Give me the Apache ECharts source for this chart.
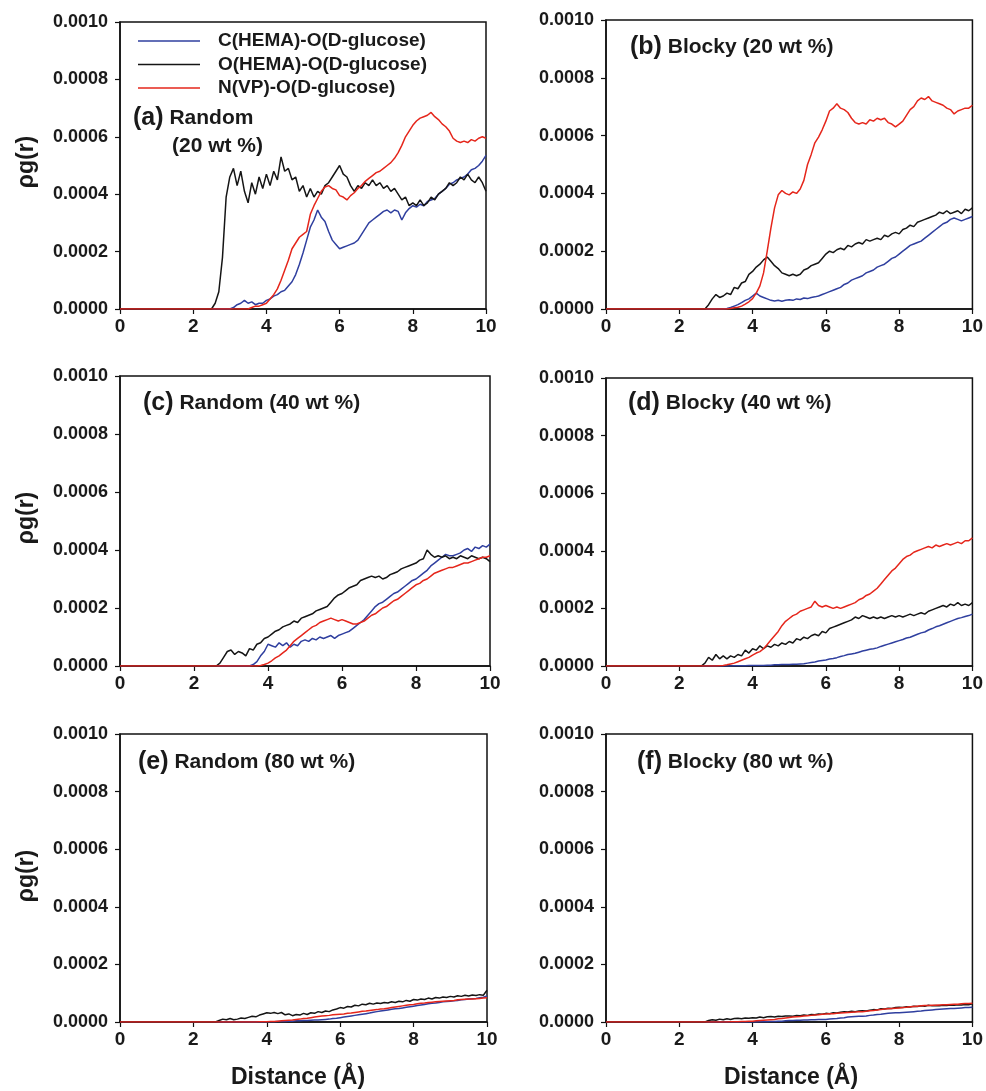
<!DOCTYPE html>
<html><head><meta charset="utf-8">
<script src="https://cdn.jsdelivr.net/npm/echarts@6/dist/echarts.min.js"></script>
<style>html,body{margin:0;padding:0;background:#fff}#c{width:986px;height:1091px}</style>
</head><body><div id="c"></div>
<script>
// ---- data (y values in units of 1e-4, sampled every 0.1 Å) ----
const SERIES_NAMES = ['C(HEMA)-O(D-glucose)', 'O(HEMA)-O(D-glucose)', 'N(VP)-O(D-glucose)'];
const SERIES_COLORS = ['#2f3f9f', '#151515', '#e5261b'];
const X_TICKS = [0, 2, 4, 6, 8, 10];
const Y_TICKS = [0, 0.0002, 0.0004, 0.0006, 0.0008, 0.0010];
const PANEL_TAGS = ['(a)', '(b)', '(c)', '(d)', '(e)', '(f)'];
const PANEL_TITLES = ['Random', 'Blocky (20 wt %)', 'Random (40 wt %)', 'Blocky (40 wt %)', 'Random (80 wt %)', 'Blocky (80 wt %)'];
const Y_UNIT = 1e-4;

const DIST = [
0,0.1,0.2,0.3,0.4,0.5,0.6,0.7,0.8,0.9,
1,1.1,1.2,1.3,1.4,1.5,1.6,1.7,1.8,1.9,
2,2.1,2.2,2.3,2.4,2.5,2.6,2.7,2.8,2.9,
3,3.1,3.2,3.3,3.4,3.5,3.6,3.7,3.8,3.9,
4,4.1,4.2,4.3,4.4,4.5,4.6,4.7,4.8,4.9,
5,5.1,5.2,5.3,5.4,5.5,5.6,5.7,5.8,5.9,
6,6.1,6.2,6.3,6.4,6.5,6.6,6.7,6.8,6.9,
7,7.1,7.2,7.3,7.4,7.5,7.6,7.7,7.8,7.9,
8,8.1,8.2,8.3,8.4,8.5,8.6,8.7,8.8,8.9,
9,9.1,9.2,9.3,9.4,9.5,9.6,9.7,9.8,9.9,
10];

// (a) Random 20 wt %
const A_C = [
0,0,0,0,0,0,0,0,0,0,
0,0,0,0,0,0,0,0,0,0,
0,0,0,0,0,0,0,0,0,0,
0,0.05,0.15,0.2,0.3,0.2,0.25,0.15,0.2,0.2,
0.3,0.35,0.45,0.5,0.6,0.65,0.8,0.95,1.2,1.55,
1.95,2.4,2.85,3.1,3.45,3.2,3.05,2.7,2.4,2.25,
2.1,2.15,2.2,2.25,2.3,2.4,2.6,2.8,3.0,3.1,
3.2,3.3,3.4,3.45,3.35,3.45,3.4,3.1,3.35,3.5,
3.6,3.55,3.65,3.6,3.75,3.8,3.85,4.0,4.1,4.2,
4.35,4.4,4.5,4.55,4.6,4.7,4.85,4.9,5.0,5.15,
5.35];
const A_O = [
0,0,0,0,0,0,0,0,0,0,
0,0,0,0,0,0,0,0,0,0,
0,0,0,0,0,0,0.2,0.6,1.8,3.9,
4.6,4.9,4.3,4.8,4.1,3.7,4.4,4.0,4.6,4.2,
4.7,4.3,4.8,4.5,5.3,4.8,4.9,4.5,4.6,4.1,
4.3,3.9,4.2,3.9,4.1,4.0,4.3,4.4,4.6,4.8,
5.0,4.7,4.6,4.3,4.1,4.3,4.2,4.4,4.3,4.5,
4.3,4.4,4.2,4.3,4.1,4.2,4.0,3.8,3.9,3.6,
3.7,3.6,3.8,3.6,3.7,3.9,3.8,4.0,4.1,4.2,
4.4,4.3,4.4,4.6,4.5,4.7,4.5,4.4,4.6,4.4,
4.1];
const A_N = [
0,0,0,0,0,0,0,0,0,0,
0,0,0,0,0,0,0,0,0,0,
0,0,0,0,0,0,0,0,0,0,
0,0,0,0,0,0,0.05,0.1,0.1,0.15,
0.2,0.35,0.5,0.7,1.0,1.35,1.7,2.1,2.3,2.5,
2.6,2.7,3.3,3.6,3.85,4.1,4.25,4.3,4.2,4.15,
3.95,3.9,3.8,3.95,4.05,4.2,4.3,4.45,4.55,4.65,
4.75,4.8,4.9,5.0,5.1,5.25,5.45,5.7,6.0,6.2,
6.4,6.55,6.65,6.7,6.75,6.85,6.7,6.6,6.45,6.35,
6.2,5.95,5.85,5.8,5.85,5.8,5.9,5.85,5.95,6.0,
5.95];

// (b) Blocky 20 wt %
const B_C = [
0,0,0,0,0,0,0,0,0,0,
0,0,0,0,0,0,0,0,0,0,
0,0,0,0,0,0,0,0,0,0,
0,0,0,0.02,0.05,0.1,0.15,0.22,0.3,0.35,
0.45,0.55,0.45,0.4,0.35,0.3,0.28,0.3,0.27,0.3,
0.32,0.3,0.35,0.33,0.38,0.36,0.4,0.42,0.45,0.5,
0.55,0.6,0.65,0.7,0.75,0.85,0.9,1.0,1.05,1.1,
1.15,1.25,1.3,1.35,1.45,1.5,1.55,1.65,1.75,1.8,
1.9,2.0,2.1,2.2,2.25,2.3,2.35,2.45,2.55,2.65,
2.75,2.85,2.95,3.0,3.1,3.15,3.1,3.05,3.1,3.15,
3.2];
const B_O = [
0,0,0,0,0,0,0,0,0,0,
0,0,0,0,0,0,0,0,0,0,
0,0,0,0,0,0,0,0,0.15,0.35,
0.5,0.4,0.45,0.55,0.5,0.75,0.7,0.9,0.95,1.2,
1.3,1.45,1.55,1.7,1.8,1.65,1.5,1.4,1.25,1.2,
1.15,1.2,1.15,1.2,1.35,1.4,1.5,1.55,1.6,1.75,
1.9,2.0,1.95,2.05,2.1,2.05,2.2,2.15,2.25,2.3,
2.25,2.4,2.35,2.4,2.45,2.4,2.55,2.5,2.6,2.65,
2.6,2.75,2.8,2.9,2.85,3.0,3.05,3.1,3.15,3.2,
3.25,3.35,3.3,3.4,3.3,3.35,3.4,3.3,3.45,3.4,
3.5];
const B_N = [
0,0,0,0,0,0,0,0,0,0,
0,0,0,0,0,0,0,0,0,0,
0,0,0,0,0,0,0,0,0,0,
0,0,0,0,0.02,0.04,0.06,0.1,0.17,0.25,
0.36,0.55,0.8,1.25,2.0,2.8,3.5,3.95,4.1,4.0,
3.95,4.05,4.0,4.15,4.45,5.0,5.35,5.75,5.95,6.2,
6.5,6.85,6.95,7.1,6.95,6.9,6.8,6.6,6.45,6.4,
6.45,6.4,6.55,6.5,6.6,6.55,6.6,6.45,6.4,6.3,
6.4,6.5,6.7,6.9,7.0,7.2,7.3,7.25,7.35,7.2,
7.15,7.1,7.05,6.95,6.9,6.75,6.85,6.9,6.95,6.95,
7.05];

// (c) Random 40 wt %
const C_C = [
0,0,0,0,0,0,0,0,0,0,
0,0,0,0,0,0,0,0,0,0,
0,0,0,0,0,0,0,0,0,0,
0,0,0,0,0,0,0.05,0.15,0.35,0.5,
0.75,0.7,0.65,0.8,0.7,0.8,0.65,0.75,0.7,0.85,
0.9,0.85,0.95,0.9,1.0,0.95,1.0,1.05,0.95,1.05,
1.1,1.15,1.2,1.3,1.4,1.5,1.6,1.75,1.9,2.05,
2.15,2.2,2.3,2.4,2.5,2.55,2.65,2.75,2.85,2.95,
3.0,3.1,3.2,3.3,3.45,3.55,3.65,3.75,3.85,3.8,
3.8,3.85,3.9,4.0,4.05,3.95,4.1,4.05,4.15,4.1,
4.2];
const C_O = [
0,0,0,0,0,0,0,0,0,0,
0,0,0,0,0,0,0,0,0,0,
0,0,0,0,0,0,0,0.1,0.3,0.5,
0.55,0.4,0.5,0.45,0.35,0.6,0.55,0.75,0.8,0.95,
1.0,1.1,1.2,1.25,1.35,1.4,1.45,1.55,1.5,1.65,
1.7,1.75,1.8,1.9,1.95,2.0,2.05,2.2,2.35,2.45,
2.5,2.6,2.7,2.75,2.8,2.95,3.0,3.05,3.1,3.05,
3.1,3.0,3.05,3.15,3.2,3.25,3.35,3.4,3.45,3.5,
3.55,3.65,3.7,4.0,3.85,3.75,3.8,3.75,3.8,3.7,
3.75,3.7,3.8,3.75,3.7,3.8,3.75,3.7,3.75,3.7,
3.6];
const C_N = [
0,0,0,0,0,0,0,0,0,0,
0,0,0,0,0,0,0,0,0,0,
0,0,0,0,0,0,0,0,0,0,
0,0,0,0,0,0,0,0,0.02,0.05,
0.1,0.18,0.28,0.35,0.45,0.55,0.7,0.85,0.95,1.05,
1.15,1.25,1.35,1.4,1.5,1.55,1.6,1.65,1.6,1.55,
1.6,1.55,1.5,1.45,1.45,1.5,1.55,1.65,1.75,1.8,
1.9,2.0,2.05,2.15,2.25,2.3,2.4,2.5,2.6,2.7,
2.8,2.85,2.95,3.0,3.1,3.2,3.25,3.3,3.35,3.4,
3.4,3.45,3.5,3.55,3.55,3.6,3.65,3.7,3.75,3.75,
3.8];

// (d) Blocky 40 wt %
const D_C = [
0,0,0,0,0,0,0,0,0,0,
0,0,0,0,0,0,0,0,0,0,
0,0,0,0,0,0,0,0,0,0,
0,0,0,0,0,0.005,0.01,0.01,0.01,0.015,
0.02,0.02,0.02,0.02,0.03,0.03,0.04,0.04,0.05,0.05,
0.05,0.06,0.06,0.07,0.08,0.1,0.12,0.14,0.17,0.19,
0.21,0.24,0.26,0.29,0.33,0.36,0.4,0.42,0.44,0.48,
0.52,0.55,0.58,0.6,0.63,0.68,0.72,0.76,0.8,0.84,
0.88,0.92,0.97,1.0,1.05,1.1,1.15,1.18,1.25,1.3,
1.36,1.4,1.45,1.5,1.55,1.6,1.65,1.68,1.72,1.75,
1.8];
const D_O = [
0,0,0,0,0,0,0,0,0,0,
0,0,0,0,0,0,0,0,0,0,
0,0,0,0,0,0,0,0.1,0.3,0.2,
0.4,0.25,0.35,0.25,0.35,0.3,0.4,0.35,0.55,0.45,
0.6,0.55,0.7,0.6,0.7,0.65,0.75,0.7,0.8,0.75,
0.85,0.8,0.95,0.9,1.0,0.95,1.05,1.1,1.05,1.2,
1.15,1.3,1.35,1.4,1.45,1.5,1.55,1.6,1.7,1.65,
1.75,1.7,1.65,1.7,1.65,1.7,1.65,1.7,1.75,1.7,
1.75,1.7,1.75,1.8,1.75,1.8,1.85,1.8,1.9,1.95,
2.0,2.05,2.1,2.05,2.15,2.1,2.2,2.1,2.15,2.1,
2.2];
const D_N = [
0,0,0,0,0,0,0,0,0,0,
0,0,0,0,0,0,0,0,0,0,
0,0,0,0,0,0,0,0,0,0,
0,0.01,0.02,0.04,0.07,0.1,0.15,0.2,0.25,0.3,
0.38,0.45,0.5,0.6,0.75,0.9,1.05,1.2,1.4,1.55,
1.65,1.75,1.8,1.9,1.95,2.0,2.05,2.25,2.1,2.05,
2.1,2.05,2.0,2.05,2.0,2.05,2.1,2.15,2.2,2.3,
2.35,2.45,2.5,2.6,2.7,2.85,3.0,3.15,3.3,3.4,
3.55,3.7,3.8,3.85,3.95,4.0,4.05,4.1,4.15,4.1,
4.2,4.15,4.2,4.25,4.2,4.25,4.3,4.25,4.35,4.35,
4.45];

// (e) Random 80 wt %
const E_C = [
0,0,0,0,0,0,0,0,0,0,
0,0,0,0,0,0,0,0,0,0,
0,0,0,0,0,0,0,0,0,0,
0,0,0,0,0,0,0,0,0,0,
0.005,0.01,0.01,0.015,0.02,0.02,0.03,0.03,0.04,0.04,
0.05,0.05,0.06,0.07,0.07,0.08,0.09,0.1,0.12,0.13,
0.15,0.17,0.19,0.21,0.23,0.25,0.27,0.29,0.31,0.34,
0.36,0.38,0.4,0.42,0.44,0.46,0.47,0.49,0.51,0.53,
0.55,0.57,0.59,0.61,0.63,0.65,0.66,0.68,0.7,0.71,
0.72,0.74,0.75,0.77,0.78,0.8,0.81,0.82,0.84,0.86,
0.9];
const E_O = [
0,0,0,0,0,0,0,0,0,0,
0,0,0,0,0,0,0,0,0,0,
0,0,0,0,0,0,0,0.05,0.1,0.08,
0.12,0.08,0.1,0.14,0.12,0.16,0.2,0.18,0.24,0.28,
0.32,0.3,0.33,0.29,0.33,0.25,0.28,0.22,0.26,0.24,
0.3,0.26,0.32,0.3,0.36,0.33,0.38,0.36,0.42,0.45,
0.5,0.48,0.54,0.52,0.58,0.56,0.62,0.6,0.65,0.62,
0.66,0.64,0.68,0.66,0.7,0.68,0.72,0.7,0.75,0.72,
0.78,0.76,0.8,0.78,0.83,0.8,0.85,0.83,0.87,0.85,
0.89,0.87,0.91,0.89,0.93,0.9,0.94,0.92,0.95,0.93,
1.1];
const E_N = [
0,0,0,0,0,0,0,0,0,0,
0,0,0,0,0,0,0,0,0,0,
0,0,0,0,0,0,0,0,0,0,
0,0,0,0,0,0,0,0,0.005,0.01,
0.01,0.02,0.02,0.03,0.04,0.05,0.06,0.07,0.09,0.1,
0.12,0.13,0.15,0.17,0.19,0.21,0.22,0.23,0.25,0.26,
0.27,0.28,0.3,0.31,0.33,0.35,0.37,0.38,0.4,0.42,
0.43,0.45,0.46,0.48,0.5,0.52,0.54,0.56,0.58,0.6,
0.61,0.63,0.65,0.66,0.68,0.69,0.7,0.71,0.72,0.73,
0.74,0.75,0.77,0.78,0.79,0.8,0.8,0.81,0.82,0.83,
0.84];

// (f) Blocky 80 wt %
const F_C = [
0,0,0,0,0,0,0,0,0,0,
0,0,0,0,0,0,0,0,0,0,
0,0,0,0,0,0,0,0,0,0,
0,0,0,0,0,0,0,0,0,0,
0,0,0.005,0.01,0.01,0.02,0.02,0.03,0.03,0.04,
0.05,0.05,0.06,0.06,0.07,0.07,0.08,0.08,0.09,0.09,
0.09,0.1,0.11,0.12,0.14,0.15,0.17,0.18,0.19,0.2,
0.2,0.21,0.23,0.24,0.26,0.27,0.29,0.3,0.31,0.32,
0.32,0.33,0.34,0.35,0.36,0.37,0.38,0.4,0.41,0.42,
0.43,0.44,0.45,0.46,0.47,0.47,0.48,0.49,0.5,0.5,
0.51];
const F_O = [
0,0,0,0,0,0,0,0,0,0,
0,0,0,0,0,0,0,0,0,0,
0,0,0,0,0,0,0,0,0.05,0.08,
0.06,0.1,0.08,0.11,0.09,0.12,0.13,0.11,0.14,0.13,
0.15,0.14,0.17,0.15,0.18,0.19,0.17,0.2,0.19,0.21,
0.21,0.2,0.23,0.22,0.24,0.23,0.26,0.25,0.28,0.27,
0.3,0.29,0.32,0.31,0.34,0.36,0.35,0.37,0.36,0.38,
0.39,0.38,0.41,0.43,0.42,0.46,0.45,0.48,0.47,0.5,
0.51,0.5,0.53,0.52,0.55,0.54,0.56,0.55,0.58,0.56,
0.57,0.56,0.58,0.57,0.59,0.58,0.6,0.59,0.61,0.6,
0.63];
const F_N = [
0,0,0,0,0,0,0,0,0,0,
0,0,0,0,0,0,0,0,0,0,
0,0,0,0,0,0,0,0,0,0,
0,0,0,0,0.005,0.01,0.01,0.015,0.02,0.025,
0.03,0.04,0.05,0.06,0.07,0.08,0.09,0.11,0.12,0.14,
0.16,0.17,0.18,0.19,0.21,0.22,0.23,0.24,0.25,0.27,
0.28,0.29,0.29,0.3,0.31,0.32,0.33,0.34,0.35,0.36,
0.36,0.37,0.39,0.4,0.42,0.43,0.45,0.46,0.47,0.48,
0.49,0.5,0.51,0.53,0.54,0.55,0.56,0.57,0.57,0.58,
0.58,0.59,0.6,0.6,0.61,0.62,0.62,0.63,0.64,0.64,
0.65];

const PANEL_DATA = [
  [A_C, A_O, A_N],
  [B_C, B_O, B_N],
  [C_C, C_O, C_N],
  [D_C, D_O, D_N],
  [E_C, E_O, E_N],
  [F_C, F_O, F_N]
];

// ---- layout ----
const FONT = "'Liberation Sans', Arial, Helvetica, sans-serif";
const TXT = '#1a1a1a';
const GRIDS = [
  {left: 120, top: 22,  width: 366, height: 287},
  {left: 606, top: 20,  width: 368, height: 289},
  {left: 120, top: 376, width: 370, height: 290},
  {left: 606, top: 378, width: 367, height: 288},
  {left: 120, top: 734, width: 367, height: 288},
  {left: 606, top: 734, width: 367, height: 288}
];
const TAG_POS = [[133, 118], [630, 47], [143, 403], [628, 403], [138, 762], [637, 762]];

const chart = echarts.init(document.getElementById('c'), null, {renderer: 'canvas'});

const grid = GRIDS.map(g => Object.assign({show: true, borderColor: '#111', borderWidth: 1.5, backgroundColor: 'transparent'}, g));

const xAxis = GRIDS.map((g, i) => ({
  type: 'value', gridIndex: i, min: X_TICKS[0], max: X_TICKS[X_TICKS.length - 1],
  interval: X_TICKS[1] - X_TICKS[0],
  axisLine: {show: true, onZero: false, lineStyle: {color: '#111', width: 1.5}},
  axisTick: {show: true, inside: false, length: 5, lineStyle: {color: '#111', width: 1.2}},
  splitLine: {show: false},
  axisLabel: {margin: 8, fontSize: 19, fontWeight: 'bold', color: TXT, fontFamily: FONT}
}));

const yAxis = GRIDS.map((g, i) => ({
  type: 'value', gridIndex: i, min: Y_TICKS[0], max: Y_TICKS[Y_TICKS.length - 1],
  interval: Y_TICKS[1] - Y_TICKS[0],
  axisLine: {show: true, onZero: false, lineStyle: {color: '#111', width: 1.5}},
  axisTick: {show: true, inside: false, length: 5, lineStyle: {color: '#111', width: 1.2}},
  splitLine: {show: false},
  axisLabel: {margin: 12, fontSize: 18, fontWeight: 'bold', color: TXT, fontFamily: FONT,
    formatter: v => v.toFixed(4)}
}));

const series = [];
PANEL_DATA.forEach((arrs, p) => {
  arrs.forEach((arr, k) => {
    series.push({
      type: 'line', name: SERIES_NAMES[k], xAxisIndex: p, yAxisIndex: p,
      data: DIST.map((d, j) => [d, arr[j] * Y_UNIT]),
      showSymbol: false, symbol: 'none', silent: true, z: 2 + k,
      lineStyle: {color: SERIES_COLORS[k], width: 1.5},
      itemStyle: {color: SERIES_COLORS[k]}
    });
  });
});

const graphic = [];
TAG_POS.forEach((pos, i) => {
  graphic.push({
    type: 'text', x: pos[0], y: pos[1], silent: true,
    style: {
      text: '{p|' + PANEL_TAGS[i] + '}{t| ' + PANEL_TITLES[i] + '}',
      verticalAlign: 'middle', align: 'left',
      rich: {
        p: {fontSize: 25, fontWeight: 'bold', fontFamily: FONT, fill: TXT, lineHeight: 30},
        t: {fontSize: 21, fontWeight: 'bold', fontFamily: FONT, fill: TXT, lineHeight: 30}
      }
    }
  });
});
graphic.push({type: 'text', x: 172, y: 146, silent: true,
  style: {text: '(20 wt %)', fontSize: 21, fontWeight: 'bold', fontFamily: FONT, fill: TXT, verticalAlign: 'middle', align: 'left'}});
// y-axis titles (left column)
[162, 518, 876].forEach(cy => {
  graphic.push({type: 'text', x: 27, y: cy, rotation: Math.PI / 2, silent: true,
    style: {text: 'ρg(r)', fontSize: 23, fontWeight: 'bold', fontFamily: FONT, fill: TXT, align: 'center', verticalAlign: 'middle'}});
});
// x-axis titles (bottom row)
[298, 791].forEach(cx => {
  graphic.push({type: 'text', x: cx, y: 1078, silent: true,
    style: {text: 'Distance (Å)', fontSize: 23, fontWeight: 'bold', fontFamily: FONT, fill: TXT, align: 'center', verticalAlign: 'middle'}});
});

chart.setOption({
  animation: false,
  backgroundColor: '#fff',
  grid, xAxis, yAxis, series, graphic,
  legend: {
    show: true, orient: 'vertical', left: 133, top: 26,
    itemWidth: 62, itemHeight: 1.6, itemGap: 3.5, icon: 'rect',
    selectedMode: false,
    data: SERIES_NAMES.map((n, k) => ({name: n, itemStyle: {color: SERIES_COLORS[k]}})),
    textStyle: {fontSize: 19, fontWeight: 'bold', color: TXT, fontFamily: FONT, lineHeight: 20, padding: [0, 0, 0, 13]}
  }
});
</script>
</body></html>
